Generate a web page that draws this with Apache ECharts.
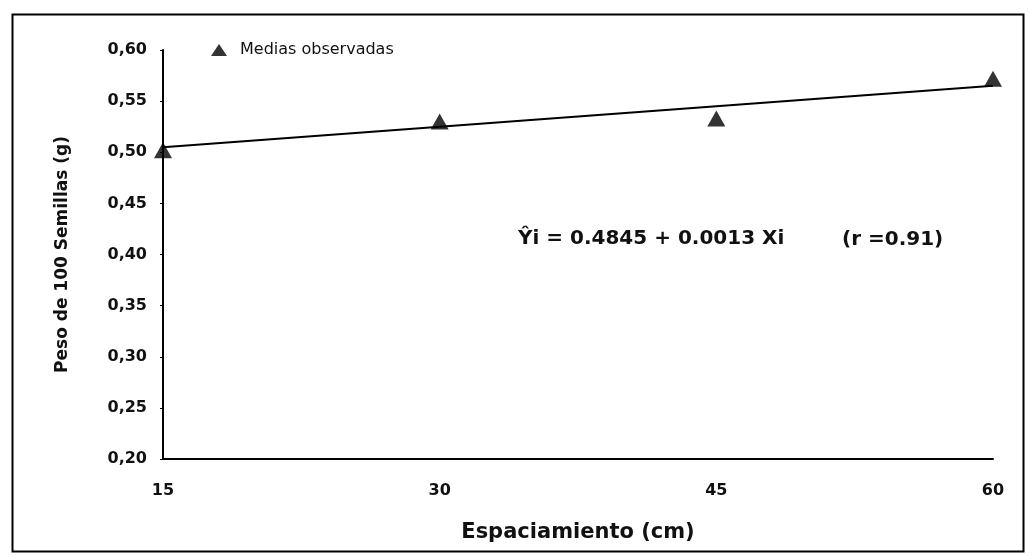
<!DOCTYPE html>
<html><head><meta charset="utf-8">
<script src="https://cdn.jsdelivr.net/npm/echarts@6/dist/echarts.min.js"></script>
<style>html,body{margin:0;padding:0;background:#fff}#c{width:1029px;height:557px}</style>
</head><body><div id="c"></div>
<script>
const espaciamiento = [15, 30, 45, 60];
const pesoObservado = [0.502, 0.530, 0.533, 0.572];
const rectaX = [15, 60];
const rectaY = [0.505, 0.565];
const xTicks = [15, 30, 45, 60];
const yTicks = [0.20, 0.25, 0.30, 0.35, 0.40, 0.45, 0.50, 0.55, 0.60];

const chart = echarts.init(document.getElementById('c'));
const F = '"DejaVu Sans", Verdana, sans-serif';
chart.setOption({
  animation: false,
  backgroundColor: '#fff',
  textStyle: { fontFamily: F },
  grid: { left: 163, right: 36, top: 50, bottom: 98 },
  legend: {
    data: [{ name: 'Medias observadas', icon: 'triangle' }],
    left: 211, top: 42, itemWidth: 16, itemHeight: 12, itemGap: 14, padding: 0,
    itemStyle: { color: '#000' },
    textStyle: { fontSize: 16, color: '#111', fontFamily: F, padding: [0, 0, 0, 8] }
  },
  xAxis: {
    type: 'value', min: xTicks[0], max: xTicks[xTicks.length - 1], interval: 15,
    name: 'Espaciamiento (cm)', nameLocation: 'middle', nameGap: 63,
    nameTextStyle: { fontSize: 21, fontWeight: 'bold', color: '#111', fontFamily: F },
    axisLine: { lineStyle: { color: '#000', width: 2 } },
    axisTick: { show: false },
    splitLine: { show: false },
    axisLabel: { fontSize: 16, fontWeight: 'bold', color: '#111', margin: 24, fontFamily: F }
  },
  yAxis: {
    type: 'value', min: yTicks[0], max: yTicks[yTicks.length - 1], interval: 0.05,
    name: 'Peso de 100 Semillas (g)', nameLocation: 'middle', nameGap: 92,
    nameTextStyle: { fontSize: 17, fontWeight: 'bold', color: '#111', fontFamily: F },
    axisLine: { show: true, lineStyle: { color: '#000', width: 2 } },
    axisTick: { show: true, length: 3, lineStyle: { color: '#000' } },
    splitLine: { show: false },
    axisLabel: { fontSize: 16, fontWeight: 'bold', color: '#111', margin: 16, fontFamily: F,
      formatter: v => v.toFixed(2).replace('.', ',') }
  },
  series: [
    {
      name: 'Recta', type: 'line', data: rectaX.map((x, i) => [x, rectaY[i]]),
      symbol: 'none', lineStyle: { color: '#000', width: 2 }, z: 2
    },
    {
      name: 'Medias observadas', type: 'scatter',
      data: espaciamiento.map((x, i) => [x, pesoObservado[i]]),
      symbol: 'triangle', symbolSize: [18, 16], itemStyle: { color: '#000' }, z: 3
    }
  ],
  graphic: [
    { type: 'rect', left: 10, top: 12, shape: { width: 1011, height: 537 },
      style: { fill: 'none', stroke: '#000', lineWidth: 2 }, silent: true },
    { type: 'text', left: 518, top: 229,
      style: { text: 'Ŷi = 0.4845 + 0.0013 Xi', font: 'bold 20px ' + F, fill: '#111' } },
    { type: 'text', left: 842, top: 230,
      style: { text: '(r =0.91)', font: 'bold 20px ' + F, fill: '#111' } }
  ]
});
</script></body></html>
